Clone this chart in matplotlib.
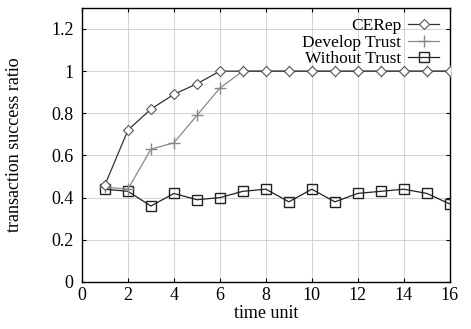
import matplotlib
matplotlib.use("Agg")
import matplotlib.pyplot as plt

plt.rcParams["font.family"] = ["Liberation Serif", "DejaVu Serif"]

time_unit = list(range(1, 17))
cerep = [0.46, 0.72, 0.82, 0.89, 0.94, 1.0, 1.0, 1.0, 1.0, 1.0, 1.0, 1.0, 1.0, 1.0, 1.0, 1.0]
develop_trust = [0.45, 0.44, 0.63, 0.66, 0.79, 0.92, 1.0, 1.0, 1.0, 1.0, 1.0, 1.0, 1.0, 1.0, 1.0, 1.0]
without_trust = [0.44, 0.43, 0.36, 0.42, 0.39, 0.40, 0.43, 0.44, 0.38, 0.44, 0.38, 0.42, 0.43, 0.44, 0.42, 0.37]

x_ticks = [0, 2, 4, 6, 8, 10, 12, 14, 16]
y_ticks = [0, 0.2, 0.4, 0.6, 0.8, 1, 1.2]
y_labels = ["0", "0.2", "0.4", "0.6", "0.8", "1", "1.2"]

fig = plt.figure(figsize=(4.71, 3.29), dpi=100)
ax = fig.add_axes([0.174, 0.143, 0.781, 0.833])

ax.plot(time_unit, without_trust, color="#222222", lw=0.9, marker="s", ms=7,
        mfc="none", mec="#222222", mew=1.0, label="Without Trust", zorder=3)
ax.plot(time_unit, develop_trust, color="#888888", lw=0.9, marker="+", ms=8,
        mew=1.0, label="Develop Trust", zorder=3)
ax.plot(time_unit, cerep, color="#333333", lw=0.9, marker="D", ms=5.5,
        mfc="white", mec="#555555", mew=0.8, label="CERep", zorder=4)

ax.set_xlim(0, 16)
ax.set_ylim(0, 1.3)
ax.set_xticks(x_ticks)
ax.set_yticks(y_ticks)
ax.set_yticklabels(y_labels)
ax.tick_params(direction="in", top=True, right=True, labelsize=13, length=3)
ax.tick_params(axis="y", pad=6)
ax.grid(True, color="#cccccc", linestyle="-", linewidth=0.6)
for s in ax.spines.values():
    s.set_linewidth(1.0)

ax.set_xlabel("time unit", fontsize=13, labelpad=1)
ax.set_ylabel("transaction success ratio", fontsize=13, labelpad=20)

handles, labels = ax.get_legend_handles_labels()
order = [2, 1, 0]
ax.legend([handles[i] for i in order], [labels[i] for i in order],
          loc="upper right", markerfirst=False, frameon=False, fontsize=12.5,
          handlelength=1.8, borderaxespad=0.2, labelspacing=0.0,
          handletextpad=0.4)

fig.savefig("out.png", dpi=100)
